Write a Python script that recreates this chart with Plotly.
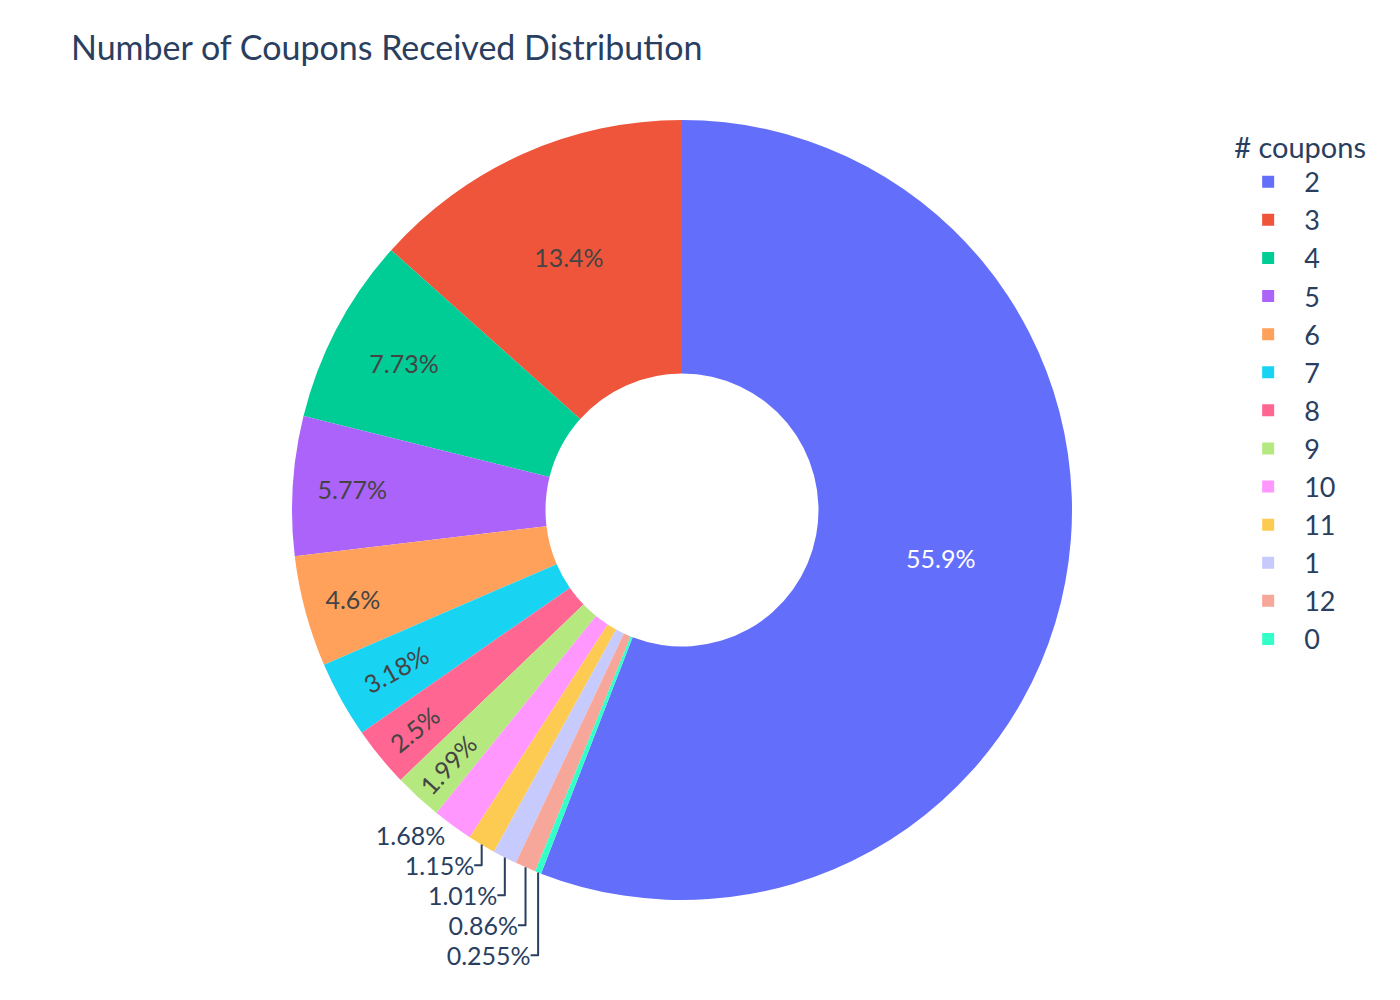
import plotly.graph_objects as go

labels = ["2", "3", "4", "5", "6", "7", "8", "9", "10", "11", "1", "12", "0"]
percents = [55.9, 13.4, 7.73, 5.77, 4.6, 3.18, 2.5, 1.99, 1.68, 1.15, 1.01, 0.86, 0.255]
# small slices carry their labels outside, as in the original
text_pos = ["inside"] * 8 + ["outside"] * 5

fig = go.Figure(data=[go.Pie(
    labels=labels,
    values=percents,
    hole=0.35,
    textinfo="percent",
    textposition=text_pos,
    textfont=dict(size=25),
)])

fig.update_layout(
    title=dict(text="Number of Coupons Received Distribution", font=dict(size=34),
               x=0.045, y=0.96, yanchor="middle"),
    font=dict(family="Lato, sans-serif", size=24, color="#2a3f5f"),
    legend=dict(title=dict(text="# coupons", font=dict(size=29)), font=dict(size=27),
                itemwidth=62),
    margin=dict(l=123, r=197, t=112, b=108),
    paper_bgcolor="white",
    width=1400,
    height=1000,
)
fig.write_html("out.html")
